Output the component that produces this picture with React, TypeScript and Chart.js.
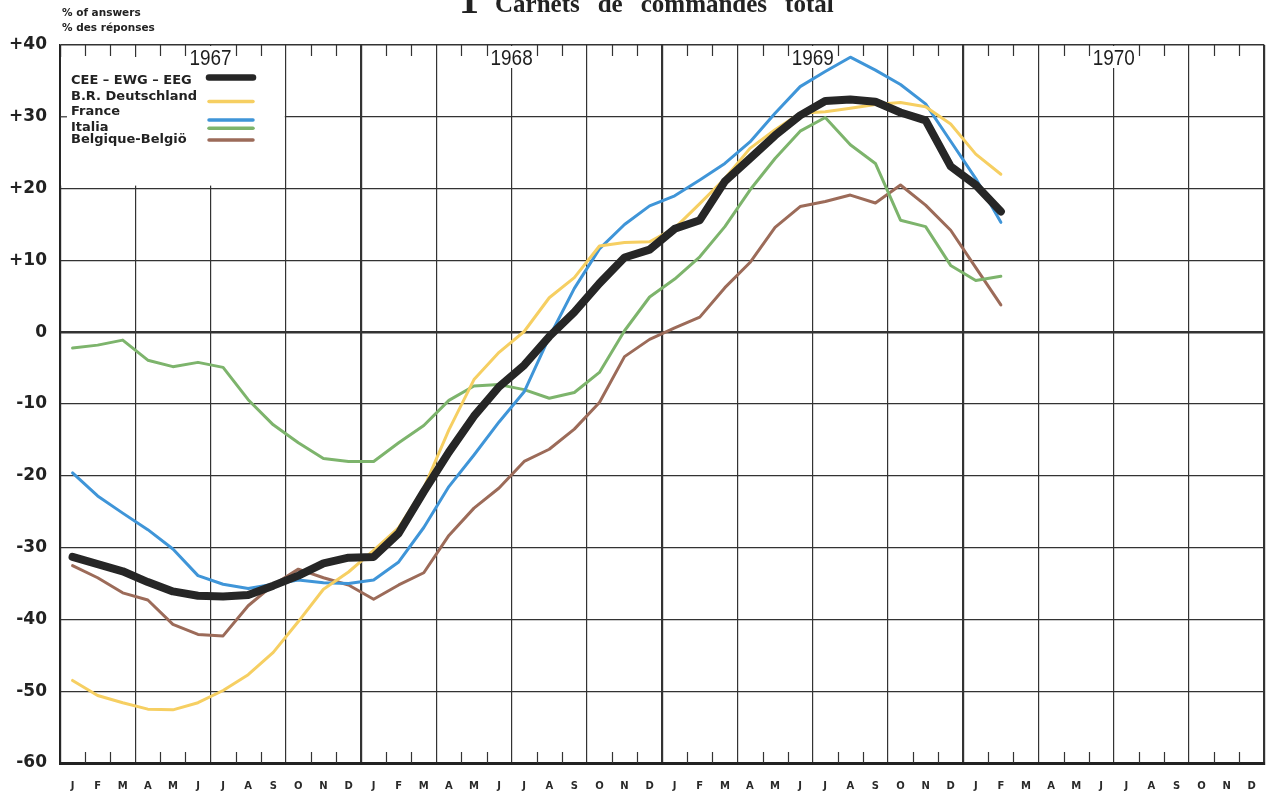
import React, { useEffect, useRef } from 'react';
import { Chart, registerables } from 'chart.js';

Chart.register(...registerables);

// ---- Data ----
const monthInitials = ['J', 'F', 'M', 'A', 'M', 'J', 'J', 'A', 'S', 'O', 'N', 'D'];
const years = ['1967', '1968', '1969', '1970'];
const monthLabels = years.flatMap(() => monthInitials);

const yTickValues = [40, 30, 20, 10, 0, -10, -20, -30, -40, -50, -60];
const yTickLabels = ['+40', '+30', '+20', '+10', '0', '-10', '-20', '-30', '-40', '-50', '-60'];

// monthly values Jan 1967 .. Feb 1970
const cee = [
  -31.3, -32.3, -33.3, -34.8, -36.1, -36.7, -36.8, -36.6, -35.3, -33.9, -32.2, -31.4,
  -31.3, -28.0, -22.2, -16.7, -11.7, -7.6, -4.6, -0.6, 2.8, 6.8, 10.4, 11.5,
  14.4, 15.6, 21.0, 24.2, 27.4, 30.2, 32.2, 32.4, 32.1, 30.6, 29.5, 23.1,
  20.5, 16.8,
];
const deutschland = [
  -48.5, -50.6, -51.6, -52.5, -52.6, -51.6, -49.9, -47.7, -44.6, -40.3, -35.8, -33.4,
  -30.4, -27.2, -21.7, -13.6, -6.6, -2.8, 0.1, 4.8, 7.6, 12.0, 12.5, 12.6,
  14.5, 17.9, 21.4, 25.6, 28.2, 30.5, 30.7, 31.2, 31.7, 32.0, 31.4, 29.0,
  24.8, 22.0,
];
const france = [
  -19.6, -22.8, -25.2, -27.5, -30.2, -33.9, -35.1, -35.7, -35.1, -34.5, -34.9, -35.0,
  -34.5, -32.0, -27.2, -21.5, -17.1, -12.5, -8.3, -0.7, 6.1, 11.6, 15.0, 17.6,
  19.0, 21.2, 23.5, 26.5, 30.5, 34.2, 36.3, 38.3, 36.5, 34.5, 31.8, 26.6,
  21.4, 15.3,
];
const italia = [
  -2.2, -1.8, -1.1, -3.9, -4.8, -4.2, -4.9, -9.4, -12.9, -15.4, -17.6, -18.0,
  -18.0, -15.4, -13.0, -9.5, -7.5, -7.3, -8.0, -9.2, -8.4, -5.6, 0.2, 4.9,
  7.4, 10.5, 14.7, 19.8, 24.2, 28.0, 29.9, 26.1, 23.5, 15.6, 14.7, 9.3,
  7.2, 7.8,
];
const belgique = [
  -32.5, -34.2, -36.3, -37.3, -40.7, -42.1, -42.3, -38.1, -35.2, -33.0, -34.2, -35.2,
  -37.2, -35.2, -33.5, -28.3, -24.5, -21.7, -18.0, -16.3, -13.5, -9.8, -3.4, -1.0,
  0.6, 2.1, 6.2, 9.7, 14.6, 17.5, 18.2, 19.1, 18.0, 20.5, 17.7, 14.2,
  9.0, 3.8,
];

const seriesNames = ['CEE – EWG – EEG', 'B.R. Deutschland', 'France', 'Italia', 'Belgique-Belgiö'];
const seriesColors = ['#262626', '#f6cf62', '#3f95d8', '#7db46c', '#9c6b59'];
const seriesWidths = [8, 3, 3, 3, 3];
const seriesData = [cee, deutschland, france, italia, belgique];

const GRID = '#333333';

const toPoints = (arr: number[]) => arr.map((v, i) => ({ x: i + 0.5, y: v }));

const decorPlugin = {
  id: 'decor',
  beforeDatasetsDraw(chart: any) {
    const { ctx, chartArea: a, scales } = chart;
    const xs = scales.x;
    const ys = scales.y;
    ctx.save();

    // legend white box (hides grid there)
    const boxRight = xs.getPixelForValue(9) - 1;
    const boxBottom = ys.getPixelForValue(20) - 3;
    ctx.fillStyle = '#ffffff';
    ctx.fillRect(a.left + 1, a.top + 12, boxRight - a.left - 1, boxBottom - a.top - 12);
    // small stub of +30 line at left border
    ctx.strokeStyle = GRID;
    ctx.lineWidth = 1.2;
    ctx.beginPath();
    const y30 = ys.getPixelForValue(30);
    ctx.moveTo(a.left, y30);
    ctx.lineTo(a.left + 7, y30);
    ctx.stroke();

    // month tick marks at top and bottom
    ctx.beginPath();
    for (let i = 1; i < 48; i++) {
      if (i % 3 === 0) continue;
      const x = Math.round(xs.getPixelForValue(i)) + 0.5;
      ctx.moveTo(x, a.top);
      ctx.lineTo(x, a.top + 11);
      ctx.moveTo(x, a.bottom);
      ctx.lineTo(x, a.bottom - 11);
    }
    ctx.stroke();

    // year labels with white background
    years.forEach((yr, k) => {
      const cx = xs.getPixelForValue(6 + 12 * k);
      ctx.fillStyle = '#ffffff';
      ctx.fillRect(cx - 21, a.top + 1, 42, 22);
      ctx.save();
      ctx.translate(cx, a.top + 20);
      ctx.scale(0.86, 1);
      ctx.fillStyle = '#1e1e1e';
      ctx.font = '22px "Liberation Sans", Arial, sans-serif';
      ctx.textAlign = 'center';
      ctx.textBaseline = 'alphabetic';
      ctx.fillText(yr, 0, 0);
      ctx.restore();
    });

    // legend
    const textBaselines = [84, 100, 115, 130.5, 143];
    const sampleYs = [77.5, 101.5, 120, 128.3, 140];
    ctx.font = 'bold 13px "DejaVu Sans", sans-serif';
    ctx.textAlign = 'left';
    ctx.textBaseline = 'alphabetic';
    seriesNames.forEach((name, i) => {
      ctx.fillStyle = '#222222';
      ctx.fillText(name, a.left + 11, textBaselines[i]);
      ctx.strokeStyle = seriesColors[i];
      ctx.lineWidth = i === 0 ? 6.5 : 3.5;
      ctx.lineCap = 'round';
      ctx.beginPath();
      ctx.moveTo(209, sampleYs[i]);
      ctx.lineTo(253, sampleYs[i]);
      ctx.stroke();
    });
    ctx.restore();
  },
  afterDraw(chart: any) {
    const { ctx } = chart;
    ctx.save();
    ctx.fillStyle = '#222222';
    ctx.textAlign = 'left';
    ctx.textBaseline = 'alphabetic';
    ctx.font = 'bold 10.5px "DejaVu Sans", sans-serif';
    ctx.fillText('% of answers', 62, 16);
    ctx.fillText('% des réponses', 62, 31);

    ctx.font = 'bold 40px "Liberation Serif", serif';
    ctx.fillText('1', 459, 13);
    ctx.font = 'bold 25px "Liberation Serif", serif';
    const words = ['Carnets', 'de', 'commandes', 'total'];
    let x = 495;
    words.forEach((w) => {
      ctx.fillText(w, x, 12);
      x += ctx.measureText(w).width + 18;
    });
    ctx.restore();
  },
};

export default function App() {
  const canvasRef = useRef<HTMLCanvasElement | null>(null);

  useEffect(() => {
    if (!canvasRef.current) return;
    const chart = new Chart(canvasRef.current, {
      type: 'line',
      data: {
        datasets: seriesNames.map((name, i) => ({
          label: name,
          data: toPoints(seriesData[i]),
          borderColor: seriesColors[i],
          backgroundColor: seriesColors[i],
          borderWidth: seriesWidths[i],
          pointRadius: 0,
          tension: 0,
          borderJoinStyle: 'round' as const,
          borderCapStyle: 'round' as const,
          xAxisID: 'x',
          yAxisID: 'y',
        })),
      },
      options: {
        animation: false,
        responsive: false,
        layout: { padding: { top: 45, right: 7, left: 0, bottom: 0 } },
        plugins: {
          legend: { display: false },
          tooltip: { enabled: false },
          title: { display: false },
        },
        scales: {
          x: {
            type: 'linear',
            position: 'bottom',
            min: 0,
            max: 48,
            weight: 0,
            ticks: { display: false, stepSize: 1 },
            grid: {
              drawTicks: false,
              color: (c: any) => (c.tick && c.tick.value % 3 === 0 ? GRID : 'rgba(0,0,0,0)'),
              lineWidth: (c: any) => (c.tick && c.tick.value % 12 === 0 ? 2.2 : 1.2),
            },
            border: { display: true, color: '#222222', width: 3 },
            afterFit: (s: any) => {
              s.height = 0;
            },
          },
          xm: {
            type: 'category',
            position: 'bottom',
            labels: monthLabels,
            offset: true,
            weight: 1,
            grid: { display: false, drawTicks: false },
            border: { display: false },
            ticks: {
              autoSkip: false,
              maxRotation: 0,
              minRotation: 0,
              padding: 17,
              color: '#2a2a2a',
              font: { family: '"DejaVu Sans", sans-serif', size: 10, weight: 'bold' },
            },
            afterFit: (s: any) => {
              s.height = 33;
            },
          },
          y: {
            type: 'linear',
            min: -60,
            max: 40,
            ticks: {
              stepSize: 10,
              padding: 13,
              color: '#222222',
              font: { family: '"DejaVu Sans", sans-serif', size: 17, weight: 'bold' },
              callback: (v: any) => {
                const idx = yTickValues.indexOf(Number(v));
                return idx >= 0 ? yTickLabels[idx] : '';
              },
            },
            grid: {
              drawTicks: false,
              color: GRID,
              lineWidth: (c: any) => {
                const v = c.tick ? c.tick.value : null;
                if (v === 0) return 2.4;
                if (v === -60) return 3;
                if (v === 40) return 1.6;
                return 1.2;
              },
            },
            border: { display: true, color: '#222222', width: 1.6 },
            afterFit: (s: any) => {
              s.width = 60;
            },
          },
        },
      },
      plugins: [decorPlugin],
    } as any);
    return () => chart.destroy();
  }, []);

  return (
    <div style={{ position: 'fixed', left: 0, top: 0, width: 1273, height: 796, background: '#fff' }}>
      <canvas ref={canvasRef} width={1273} height={796} style={{ display: 'block' }} />
    </div>
  );
}
